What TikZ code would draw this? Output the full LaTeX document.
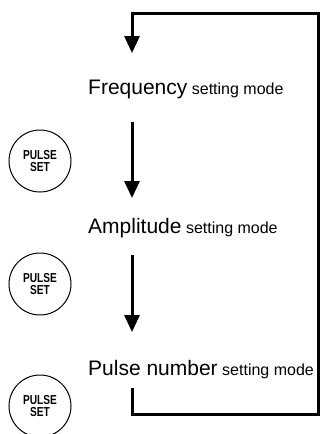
\documentclass[tikz,border=0pt]{standalone}
\usepackage{fontspec}
\setmainfont{Liberation Sans}
\usetikzlibrary{arrows.meta}
\tikzset{
  flow/.style={line width=3pt, line join=miter, -{Triangle[length=17pt,width=15pt]}},
  pulsekey/.style={circle, draw, line width=1pt, minimum size=62pt, inner sep=0pt,
    align=center, font=\fontsize{13}{12.8}\selectfont\bfseries},
  modetext/.style={anchor=base west, inner sep=0pt, font=\fontsize{16}{18}\selectfont}
}
\newcommand{\bigword}[1]{{\fontsize{21}{24}\selectfont #1}}
\newcommand{\keyword}[1]{\scalebox{0.78}[1]{#1}}

\begin{document}
\begin{tikzpicture}[x=1pt, y=-1pt]
\useasboundingbox (0,0) rectangle (322,434);
% mode texts
\node[modetext] (freq) at (88,94)  {\bigword{Frequency} setting mode};
\node[modetext] (ampl) at (88,233) {\bigword{Amplitude} setting mode};
\node[modetext] (puls) at (88,375) {\bigword{Pulse number} setting mode};
% PULSE SET keys
\node[pulsekey] (key1) at (40,161) {\keyword{PULSE}\\\keyword{SET}};
\node[pulsekey] (key2) at (40,284) {\keyword{PULSE}\\\keyword{SET}};
\node[pulsekey] (key3) at (40,406) {\keyword{PULSE}\\\keyword{SET}};
% arrow end points
\coordinate (freqin)  at (132,53);
\coordinate (freqout) at (132,122);
\coordinate (amplin)  at (132,198);
\coordinate (amplout) at (132,255);
\coordinate (pulsin)  at (132,332);
\coordinate (pulsout) at (132,388);
% steps down
\draw[flow] (freqout) -- (amplin);
\draw[flow] (amplout) -- (pulsin);
% return loop back to frequency
\draw[flow] (pulsout) -- (132,414) -- (318,414) -- (318,13) -- (132,13) -- (freqin);
\end{tikzpicture}
\end{document}
